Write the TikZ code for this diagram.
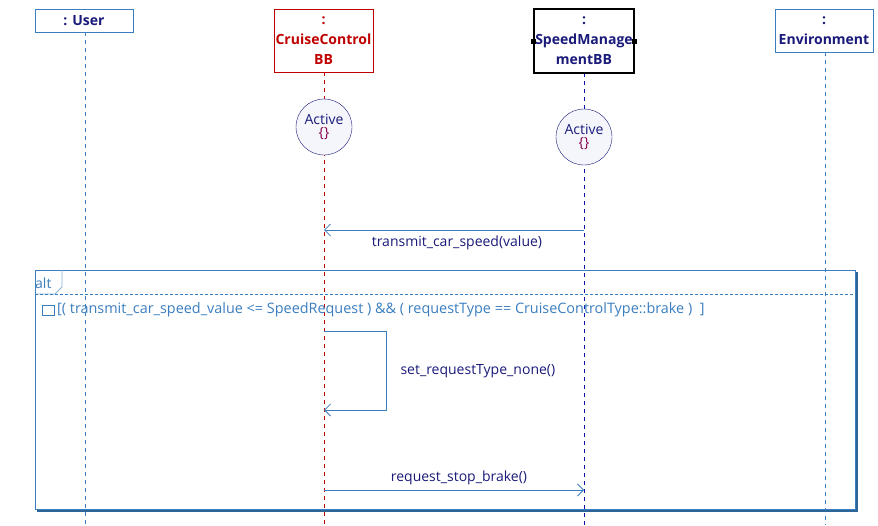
\documentclass[tikz,border=0pt]{standalone}
\usepackage{fontspec}
\setmainfont{Open Sans}
\usetikzlibrary{arrows.meta}
\definecolor{lb}{HTML}{3A7EBF}
\definecolor{nv}{HTML}{1A1A7A}
\definecolor{rd}{HTML}{C00000}
\definecolor{cf}{HTML}{F4F6FC}
\tikzset{
 x=1pt,y=-1pt,
 life/.style={dashed,dash pattern=on 4pt off 4pt,line width=0.8pt},
 head/.style={draw,fill=white,font=\fontsize{14}{20}\selectfont\bfseries,align=center,inner sep=0pt},
 state/.style={circle,draw=nv,fill=cf,minimum size=56pt,inner sep=0pt,align=center,font=\fontsize{14}{16}\selectfont,text=nv},
 msg/.style={draw=lb,line width=0.8pt,-{Straight Barb[length=6pt,width=12pt]}},
 lab/.style={font=\fontsize{14}{16}\selectfont,text=nv},
}
\begin{document}
\begin{tikzpicture}
\useasboundingbox (0,0) rectangle (878,525);
% lifelines
\draw[life,lb] (85,32) -- (85,525);
\draw[life,rd] (324,72) -- (324,525);
\draw[life,nv!60!blue] (584,73) -- (584,525);
\draw[life,lb] (825,52) -- (825,525);
% heads
\node[head,draw=lb,text=nv,minimum width=98pt,minimum height=23pt] (user) at (84,20.5) {: User};
\node[head,draw=rd,text=rd,minimum width=99pt,minimum height=63pt] (cc) at (323.5,40.5) {:\\CruiseControl\\BB};
\node[head,draw=black,line width=1.4pt,text=nv,minimum width=100pt,minimum height=64pt] (sm) at (584,41) {:\\SpeedManage\\mentBB};
\fill (sm.west) ++(-2.5,-2.5) rectangle ++(5,5);
\fill (sm.east) ++(-2.5,-2.5) rectangle ++(5,5);
\node[head,draw=lb,text=nv,minimum width=98pt,minimum height=43pt] (env) at (824,30.5) {:\\Environment};
% states
\node[state] (s1) at (324,127) {Active\\[-3pt]{\color{rd!70!blue}\{\}}};
\node[state] (s2) at (584,137) {Active\\[-3pt]{\color{rd!70!blue}\{\}}};
% alt frame
\draw[lb!80!black,line width=2pt] (857,272) -- (857,511) -- (37,511);
\draw[lb,fill=none,line width=0.9pt] (35,270) rectangle (855,509);
\draw[lb!60,line width=0.9pt] (35,294) -- (55,294) -- (62,287) -- (62,270);
\node[anchor=west,inner sep=0pt,text=lb,font=\fontsize{14}{16}\selectfont] at (35,283) {alt};
\draw[lb,dash pattern=on 3pt off 2pt,line width=0.8pt] (35,294) -- (855,294);
\draw[lb,line width=0.6pt] (42,305) rectangle (54,315);
\node[anchor=west,inner sep=0pt,text=lb,font=\fontsize{14.4}{16}\selectfont] (guard) at (57,310) {[( transmit\_car\_speed\_value <= SpeedRequest ) \&\& ( requestType == CruiseControlType::brake )~ ]};
% messages
\coordinate (m1s) at (584,230); \coordinate (m1e) at (324,230);
\draw[msg] (m1s) -- (m1e);
\node[lab] (l1) at (457,243) {transmit\_car\_speed(value)};
\coordinate (m2s) at (324,331); \coordinate (m2e) at (324,410);
\draw[msg] (m2s) -- (386,331) -- (386,410) -- (m2e);
\node[lab,anchor=west] (l2) at (397,371) {set\_requestType\_none()};
\coordinate (m3s) at (324,490); \coordinate (m3e) at (584,490);
\draw[msg] (m3s) -- (m3e);
\node[lab] (l3) at (459,478) {request\_stop\_brake()};
\end{tikzpicture}
\end{document}
